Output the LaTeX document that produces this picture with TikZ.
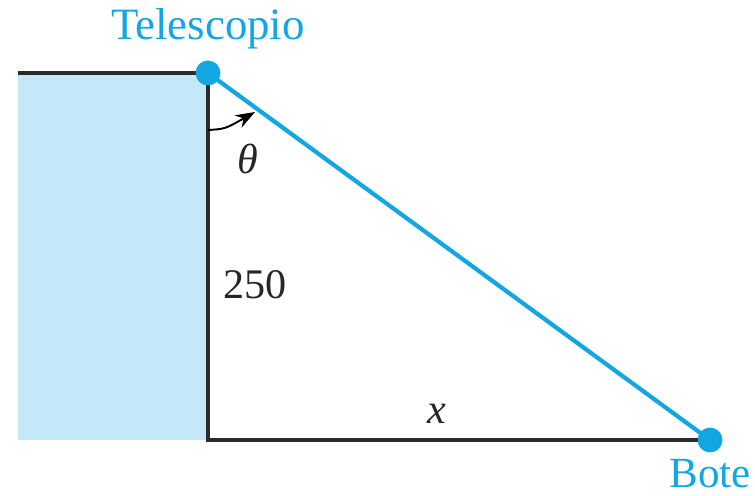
\documentclass[tikz,border=0pt]{standalone}
\usepackage{fontspec}
\setmainfont{Liberation Serif}
\usepackage{xcolor}
\usetikzlibrary{arrows.meta}
\definecolor{skyline}{HTML}{12A7E2}
\definecolor{cliffblue}{HTML}{C5E8F8}
\definecolor{edgegray}{HTML}{2B2B2B}
\tikzset{
  sight dot/.style={circle, fill=skyline, inner sep=0pt, minimum size=14pt},
  cliff edge/.style={line width=2.4pt, draw=edgegray, line join=miter},
  sight line/.style={line width=2.4pt, draw=skyline},
  blue label/.style={text=skyline, font=\fontsize{25.5}{30}\selectfont},
  plain label/.style={text=black!85, font=\fontsize{24}{28}\selectfont}
}

\begin{document}
\begin{tikzpicture}
      \useasboundingbox (0,0) rectangle (15.1,9.9);
      \coordinate (edge) at (0.36,8.44);
      \coordinate (base) at (4.16,1.1);
      \fill[cliffblue] (0.36,1.1) rectangle (4.16,8.44);
      \node[sight dot] (tel) at (4.16,8.44) {};
      \node[sight dot] (boat) at (14.2,1.1) {};
      \draw[cliff edge] (edge) -- (tel.center) -- (base) -- (boat.center);
      \draw[sight line] (tel.center) -- (boat.center);
      \node[sight dot] at (tel.center) {};
      \node[sight dot] at (boat.center) {};
      \node[blue label] (tellabel) at (4.16,9.32) {Telescopio};
      \node[blue label, font=\fontsize{24.5}{28}\selectfont] (boatlabel) at (14.2,0.42) {Bote};
      \coordinate (arcstart) at (4.16,7.3);
      \coordinate (arcend) at (5.1,7.66);
      \draw[line width=1.1pt, -{Stealth[length=11pt, width=8pt]}] (arcstart) .. controls (4.5,7.32) .. (arcend);
      \node[plain label] (theta) at (4.96,6.72) {\itshape θ};
      \node[plain label] (height) at (5.1,4.2) {250};
      \node[plain label] (dist) at (8.74,1.62) {\itshape x};
    \end{tikzpicture}
\end{document}
